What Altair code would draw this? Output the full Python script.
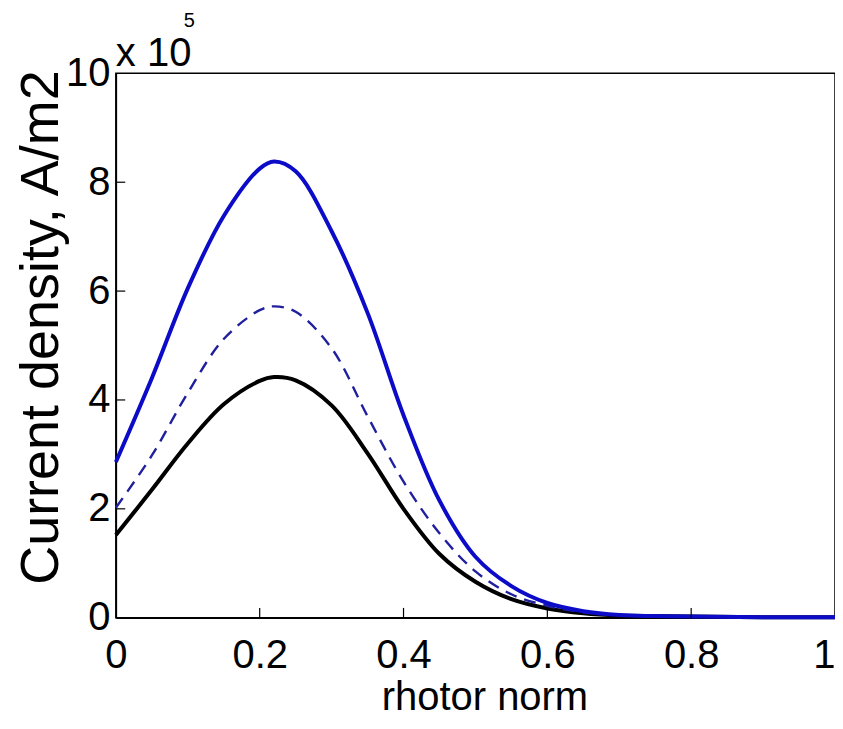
import altair as alt
import pandas as pd

xs = [0, 0.05, 0.1, 0.15, 0.2, 0.22, 0.25, 0.3, 0.35, 0.4, 0.45, 0.5, 0.55, 0.6, 0.65, 0.7, 0.75, 0.8, 0.9, 1.0]
blue_solid = [2.86, 4.4, 6.05, 7.38, 8.25, 8.38, 8.2, 7.1, 5.6, 3.72, 2.15, 1.12, 0.58, 0.27, 0.12, 0.05, 0.03, 0.02, 0.01, 0.01]
blue_dashed = [2.02, 2.98, 4.13, 5.12, 5.65, 5.72, 5.62, 4.95, 3.7, 2.5, 1.55, 0.85, 0.43, 0.22, 0.1, 0.05, 0.03, 0.02, 0.01, 0.01]
black_solid = [1.52, 2.35, 3.2, 3.92, 4.35, 4.42, 4.36, 3.9, 3.02, 2.0, 1.17, 0.66, 0.34, 0.17, 0.08, 0.04, 0.03, 0.02, 0.01, 0.01]

x_ticks = [0, 0.2, 0.4, 0.6, 0.8, 1]
y_ticks = [0, 2, 4, 6, 8, 10]

FONT = "Liberation Sans"

df = pd.DataFrame({"x": xs, "blue": blue_solid, "dashed": blue_dashed, "black": black_solid})

xscale = alt.Scale(domain=[0, 1], nice=False, zero=False)
yscale = alt.Scale(domain=[0, 10], nice=False)

xaxis = alt.Axis(values=x_ticks, labelExpr="datum.value + ''", title="rhotor norm",
                 labelFontSize=40, titleFontSize=40,
                 labelAlign={"condition": {"test": "datum.value == 1", "value": "right"}, "value": "center"},
                 labelFont=FONT, titleFont=FONT, tickSize=0, labelPadding=18,
                 titleX=369, titleY=92, titleBaseline="alphabetic",
                 domainColor="black", domainWidth=1.5, labelColor="black", titleColor="black",
                 titleFontWeight="normal", grid=False, labelFlush=False)
yaxis = alt.Axis(values=y_ticks, labelExpr="datum.value + ''", title="Current density, A/m2",
                 labelFontSize=40, titleFontSize=54,
                 labelFont=FONT, titleFont=FONT, tickSize=0, labelPadding=6,
                 titleX=-58, titleY=254, titleBaseline="alphabetic", titleAlign="center",
                 domainColor="black", domainWidth=1.5, labelColor="black",
                 titleColor="black", titleFontWeight="normal", grid=False, labelFlush=False)

base = alt.Chart(df)
INTERP = "catmull-rom"

black_line = base.mark_line(color="black", strokeWidth=4, interpolate=INTERP).encode(
    x=alt.X("x:Q", scale=xscale, axis=xaxis), y=alt.Y("black:Q", scale=yscale, axis=yaxis))
dashed_line = base.mark_line(color="#20209e", strokeWidth=2.4, strokeDash=[12, 8], interpolate=INTERP).encode(
    x=alt.X("x:Q", scale=xscale), y=alt.Y("dashed:Q", scale=yscale))
blue_line = base.mark_line(color="#0c0cc8", strokeWidth=4, interpolate=INTERP).encode(
    x=alt.X("x:Q", scale=xscale), y=alt.Y("blue:Q", scale=yscale))

xt = pd.DataFrame({"t": x_ticks[1:-1], "y0": [0] * 4, "y1": [0.18] * 4})
yt = pd.DataFrame({"t": y_ticks[1:-1], "x0": [0] * 4, "x1": [0.013] * 4})
xtick = alt.Chart(xt).mark_rule(color="black", strokeWidth=1.2).encode(
    x=alt.X("t:Q", scale=xscale), y=alt.Y("y0:Q", scale=yscale), y2="y1:Q")
ytick = alt.Chart(yt).mark_rule(color="black", strokeWidth=1.2).encode(
    y=alt.Y("t:Q", scale=yscale), x=alt.X("x0:Q", scale=xscale), x2="x1:Q")

mult = alt.Chart(pd.DataFrame({"s": ["x 10"]})).mark_text(
    font=FONT, fontSize=40, align="left", baseline="alphabetic", color="black").encode(
    text="s:N", x=alt.value(0), y=alt.value(-7))
expo = alt.Chart(pd.DataFrame({"s": ["5"]})).mark_text(
    font=FONT, fontSize=20, align="left", baseline="alphabetic", color="black").encode(
    text="s:N", x=alt.value(68), y=alt.value(-46))

chart = alt.layer(black_line, dashed_line, blue_line, xtick, ytick, mult, expo).properties(
    width=720, height=545, autosize=alt.AutoSizeParams(type="none"),
    padding={"left": 108, "top": 65, "right": 0, "bottom": 103},
    background="white",
).configure_view(stroke="black", strokeWidth=1.5)

chart.save("out.html", embed_options={"renderer": "svg", "actions": False})
